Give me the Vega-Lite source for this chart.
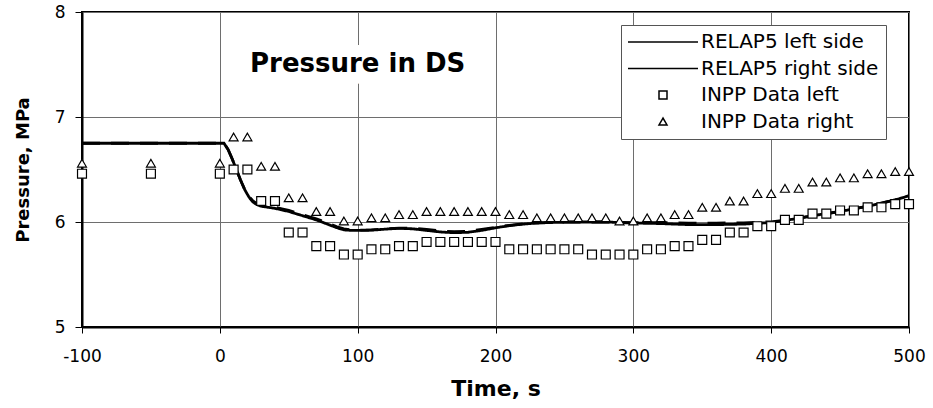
{
  "$schema": "https://vega.github.io/schema/vega-lite/v6.json",
  "width": 827,
  "height": 315,
  "autosize": "none",
  "padding": {"left": 82, "top": 12, "right": 24, "bottom": 81},
  "background": "white",
  "config": {
    "font": "DejaVu Sans",
    "view": {"stroke": "black", "strokeWidth": 2},
    "point": {"opacity": 1},
    "axis": {
      "grid": true,
      "gridColor": "#6e6e6e",
      "gridWidth": 1,
      "gridOpacity": 1,
      "domainColor": "black",
      "domainWidth": 2,
      "tickColor": "black",
      "tickWidth": 1,
      "labelColor": "black",
      "labelFont": "DejaVu Sans",
      "labelFontSize": 17,
      "labelFlush": false,
      "labelOverlap": false,
      "labelExpr": "'' + datum.value",
      "titleColor": "black",
      "titleFont": "DejaVu Sans",
      "titleFontWeight": "bold"
    }
  },
  "datasets": {
    "relap5": [
      {"series": "RELAP5 left side", "t": -100, "p": 6.75},
      {"series": "RELAP5 left side", "t": 0, "p": 6.75},
      {"series": "RELAP5 left side", "t": 3, "p": 6.75},
      {"series": "RELAP5 left side", "t": 6, "p": 6.69},
      {"series": "RELAP5 left side", "t": 9, "p": 6.6},
      {"series": "RELAP5 left side", "t": 12, "p": 6.5},
      {"series": "RELAP5 left side", "t": 15, "p": 6.4},
      {"series": "RELAP5 left side", "t": 18, "p": 6.31},
      {"series": "RELAP5 left side", "t": 21, "p": 6.24},
      {"series": "RELAP5 left side", "t": 24, "p": 6.19},
      {"series": "RELAP5 left side", "t": 27, "p": 6.165},
      {"series": "RELAP5 left side", "t": 30, "p": 6.15},
      {"series": "RELAP5 left side", "t": 35, "p": 6.14},
      {"series": "RELAP5 left side", "t": 40, "p": 6.13},
      {"series": "RELAP5 left side", "t": 45, "p": 6.115},
      {"series": "RELAP5 left side", "t": 50, "p": 6.1},
      {"series": "RELAP5 left side", "t": 55, "p": 6.08},
      {"series": "RELAP5 left side", "t": 60, "p": 6.06},
      {"series": "RELAP5 left side", "t": 65, "p": 6.04},
      {"series": "RELAP5 left side", "t": 70, "p": 6.02},
      {"series": "RELAP5 left side", "t": 75, "p": 5.995},
      {"series": "RELAP5 left side", "t": 80, "p": 5.97},
      {"series": "RELAP5 left side", "t": 85, "p": 5.945},
      {"series": "RELAP5 left side", "t": 90, "p": 5.925},
      {"series": "RELAP5 left side", "t": 95, "p": 5.92},
      {"series": "RELAP5 left side", "t": 100, "p": 5.92},
      {"series": "RELAP5 left side", "t": 110, "p": 5.922},
      {"series": "RELAP5 left side", "t": 120, "p": 5.932},
      {"series": "RELAP5 left side", "t": 130, "p": 5.94},
      {"series": "RELAP5 left side", "t": 140, "p": 5.935},
      {"series": "RELAP5 left side", "t": 150, "p": 5.92},
      {"series": "RELAP5 left side", "t": 160, "p": 5.905},
      {"series": "RELAP5 left side", "t": 170, "p": 5.898},
      {"series": "RELAP5 left side", "t": 180, "p": 5.902},
      {"series": "RELAP5 left side", "t": 190, "p": 5.92},
      {"series": "RELAP5 left side", "t": 200, "p": 5.945},
      {"series": "RELAP5 left side", "t": 210, "p": 5.965},
      {"series": "RELAP5 left side", "t": 220, "p": 5.98},
      {"series": "RELAP5 left side", "t": 230, "p": 5.99},
      {"series": "RELAP5 left side", "t": 240, "p": 5.995},
      {"series": "RELAP5 left side", "t": 250, "p": 5.998},
      {"series": "RELAP5 left side", "t": 260, "p": 6.0},
      {"series": "RELAP5 left side", "t": 280, "p": 6.0},
      {"series": "RELAP5 left side", "t": 300, "p": 5.99},
      {"series": "RELAP5 left side", "t": 320, "p": 5.985},
      {"series": "RELAP5 left side", "t": 340, "p": 5.975},
      {"series": "RELAP5 left side", "t": 360, "p": 5.975},
      {"series": "RELAP5 left side", "t": 380, "p": 5.98},
      {"series": "RELAP5 left side", "t": 400, "p": 5.995},
      {"series": "RELAP5 left side", "t": 410, "p": 6.015},
      {"series": "RELAP5 left side", "t": 420, "p": 6.035},
      {"series": "RELAP5 left side", "t": 430, "p": 6.06},
      {"series": "RELAP5 left side", "t": 440, "p": 6.08},
      {"series": "RELAP5 left side", "t": 450, "p": 6.1},
      {"series": "RELAP5 left side", "t": 460, "p": 6.125},
      {"series": "RELAP5 left side", "t": 470, "p": 6.15},
      {"series": "RELAP5 left side", "t": 480, "p": 6.18},
      {"series": "RELAP5 left side", "t": 490, "p": 6.21},
      {"series": "RELAP5 left side", "t": 500, "p": 6.25},

      {"series": "RELAP5 right side", "t": -100, "p": 6.75},
      {"series": "RELAP5 right side", "t": 0, "p": 6.75},
      {"series": "RELAP5 right side", "t": 3, "p": 6.75},
      {"series": "RELAP5 right side", "t": 6, "p": 6.69},
      {"series": "RELAP5 right side", "t": 9, "p": 6.6},
      {"series": "RELAP5 right side", "t": 12, "p": 6.5},
      {"series": "RELAP5 right side", "t": 15, "p": 6.4},
      {"series": "RELAP5 right side", "t": 18, "p": 6.31},
      {"series": "RELAP5 right side", "t": 21, "p": 6.245},
      {"series": "RELAP5 right side", "t": 24, "p": 6.2},
      {"series": "RELAP5 right side", "t": 27, "p": 6.175},
      {"series": "RELAP5 right side", "t": 30, "p": 6.16},
      {"series": "RELAP5 right side", "t": 35, "p": 6.15},
      {"series": "RELAP5 right side", "t": 40, "p": 6.14},
      {"series": "RELAP5 right side", "t": 45, "p": 6.125},
      {"series": "RELAP5 right side", "t": 50, "p": 6.11},
      {"series": "RELAP5 right side", "t": 55, "p": 6.09},
      {"series": "RELAP5 right side", "t": 60, "p": 6.07},
      {"series": "RELAP5 right side", "t": 65, "p": 6.05},
      {"series": "RELAP5 right side", "t": 70, "p": 6.03},
      {"series": "RELAP5 right side", "t": 75, "p": 6.005},
      {"series": "RELAP5 right side", "t": 80, "p": 5.98},
      {"series": "RELAP5 right side", "t": 85, "p": 5.955},
      {"series": "RELAP5 right side", "t": 90, "p": 5.935},
      {"series": "RELAP5 right side", "t": 95, "p": 5.925},
      {"series": "RELAP5 right side", "t": 100, "p": 5.922},
      {"series": "RELAP5 right side", "t": 110, "p": 5.925},
      {"series": "RELAP5 right side", "t": 120, "p": 5.935},
      {"series": "RELAP5 right side", "t": 130, "p": 5.942},
      {"series": "RELAP5 right side", "t": 140, "p": 5.94},
      {"series": "RELAP5 right side", "t": 150, "p": 5.93},
      {"series": "RELAP5 right side", "t": 160, "p": 5.915},
      {"series": "RELAP5 right side", "t": 170, "p": 5.908},
      {"series": "RELAP5 right side", "t": 180, "p": 5.912},
      {"series": "RELAP5 right side", "t": 190, "p": 5.93},
      {"series": "RELAP5 right side", "t": 200, "p": 5.95},
      {"series": "RELAP5 right side", "t": 210, "p": 5.968},
      {"series": "RELAP5 right side", "t": 220, "p": 5.982},
      {"series": "RELAP5 right side", "t": 230, "p": 5.992},
      {"series": "RELAP5 right side", "t": 240, "p": 5.997},
      {"series": "RELAP5 right side", "t": 250, "p": 6.0},
      {"series": "RELAP5 right side", "t": 260, "p": 6.0},
      {"series": "RELAP5 right side", "t": 280, "p": 6.0},
      {"series": "RELAP5 right side", "t": 300, "p": 5.995},
      {"series": "RELAP5 right side", "t": 320, "p": 5.995},
      {"series": "RELAP5 right side", "t": 340, "p": 5.99},
      {"series": "RELAP5 right side", "t": 360, "p": 5.99},
      {"series": "RELAP5 right side", "t": 380, "p": 5.992},
      {"series": "RELAP5 right side", "t": 400, "p": 6.002},
      {"series": "RELAP5 right side", "t": 410, "p": 6.018},
      {"series": "RELAP5 right side", "t": 420, "p": 6.038},
      {"series": "RELAP5 right side", "t": 430, "p": 6.06},
      {"series": "RELAP5 right side", "t": 440, "p": 6.08},
      {"series": "RELAP5 right side", "t": 450, "p": 6.1},
      {"series": "RELAP5 right side", "t": 460, "p": 6.125},
      {"series": "RELAP5 right side", "t": 470, "p": 6.15},
      {"series": "RELAP5 right side", "t": 480, "p": 6.18},
      {"series": "RELAP5 right side", "t": 490, "p": 6.21},
      {"series": "RELAP5 right side", "t": 500, "p": 6.25}
    ],
    "inpp": [
      {"series": "INPP Data left", "t": -100, "p": 6.46},
      {"series": "INPP Data left", "t": -50, "p": 6.46},
      {"series": "INPP Data left", "t": 0, "p": 6.46},
      {"series": "INPP Data left", "t": 10, "p": 6.5},
      {"series": "INPP Data left", "t": 20, "p": 6.5},
      {"series": "INPP Data left", "t": 30, "p": 6.2},
      {"series": "INPP Data left", "t": 40, "p": 6.2},
      {"series": "INPP Data left", "t": 50, "p": 5.9},
      {"series": "INPP Data left", "t": 60, "p": 5.9},
      {"series": "INPP Data left", "t": 70, "p": 5.77},
      {"series": "INPP Data left", "t": 80, "p": 5.77},
      {"series": "INPP Data left", "t": 90, "p": 5.69},
      {"series": "INPP Data left", "t": 100, "p": 5.69},
      {"series": "INPP Data left", "t": 110, "p": 5.74},
      {"series": "INPP Data left", "t": 120, "p": 5.74},
      {"series": "INPP Data left", "t": 130, "p": 5.77},
      {"series": "INPP Data left", "t": 140, "p": 5.77},
      {"series": "INPP Data left", "t": 150, "p": 5.81},
      {"series": "INPP Data left", "t": 160, "p": 5.81},
      {"series": "INPP Data left", "t": 170, "p": 5.81},
      {"series": "INPP Data left", "t": 180, "p": 5.81},
      {"series": "INPP Data left", "t": 190, "p": 5.81},
      {"series": "INPP Data left", "t": 200, "p": 5.81},
      {"series": "INPP Data left", "t": 210, "p": 5.74},
      {"series": "INPP Data left", "t": 220, "p": 5.74},
      {"series": "INPP Data left", "t": 230, "p": 5.74},
      {"series": "INPP Data left", "t": 240, "p": 5.74},
      {"series": "INPP Data left", "t": 250, "p": 5.74},
      {"series": "INPP Data left", "t": 260, "p": 5.74},
      {"series": "INPP Data left", "t": 270, "p": 5.69},
      {"series": "INPP Data left", "t": 280, "p": 5.69},
      {"series": "INPP Data left", "t": 290, "p": 5.69},
      {"series": "INPP Data left", "t": 300, "p": 5.69},
      {"series": "INPP Data left", "t": 310, "p": 5.74},
      {"series": "INPP Data left", "t": 320, "p": 5.74},
      {"series": "INPP Data left", "t": 330, "p": 5.77},
      {"series": "INPP Data left", "t": 340, "p": 5.77},
      {"series": "INPP Data left", "t": 350, "p": 5.83},
      {"series": "INPP Data left", "t": 360, "p": 5.83},
      {"series": "INPP Data left", "t": 370, "p": 5.9},
      {"series": "INPP Data left", "t": 380, "p": 5.9},
      {"series": "INPP Data left", "t": 390, "p": 5.96},
      {"series": "INPP Data left", "t": 400, "p": 5.96},
      {"series": "INPP Data left", "t": 410, "p": 6.02},
      {"series": "INPP Data left", "t": 420, "p": 6.02},
      {"series": "INPP Data left", "t": 430, "p": 6.08},
      {"series": "INPP Data left", "t": 440, "p": 6.08},
      {"series": "INPP Data left", "t": 450, "p": 6.11},
      {"series": "INPP Data left", "t": 460, "p": 6.11},
      {"series": "INPP Data left", "t": 470, "p": 6.14},
      {"series": "INPP Data left", "t": 480, "p": 6.14},
      {"series": "INPP Data left", "t": 490, "p": 6.17},
      {"series": "INPP Data left", "t": 500, "p": 6.17},

      {"series": "INPP Data right", "t": -100, "p": 6.56},
      {"series": "INPP Data right", "t": -50, "p": 6.56},
      {"series": "INPP Data right", "t": 0, "p": 6.56},
      {"series": "INPP Data right", "t": 10, "p": 6.81},
      {"series": "INPP Data right", "t": 20, "p": 6.81},
      {"series": "INPP Data right", "t": 30, "p": 6.53},
      {"series": "INPP Data right", "t": 40, "p": 6.53},
      {"series": "INPP Data right", "t": 50, "p": 6.23},
      {"series": "INPP Data right", "t": 60, "p": 6.23},
      {"series": "INPP Data right", "t": 70, "p": 6.1},
      {"series": "INPP Data right", "t": 80, "p": 6.1},
      {"series": "INPP Data right", "t": 90, "p": 6.01},
      {"series": "INPP Data right", "t": 100, "p": 6.01},
      {"series": "INPP Data right", "t": 110, "p": 6.04},
      {"series": "INPP Data right", "t": 120, "p": 6.04},
      {"series": "INPP Data right", "t": 130, "p": 6.07},
      {"series": "INPP Data right", "t": 140, "p": 6.07},
      {"series": "INPP Data right", "t": 150, "p": 6.1},
      {"series": "INPP Data right", "t": 160, "p": 6.1},
      {"series": "INPP Data right", "t": 170, "p": 6.1},
      {"series": "INPP Data right", "t": 180, "p": 6.1},
      {"series": "INPP Data right", "t": 190, "p": 6.1},
      {"series": "INPP Data right", "t": 200, "p": 6.1},
      {"series": "INPP Data right", "t": 210, "p": 6.07},
      {"series": "INPP Data right", "t": 220, "p": 6.07},
      {"series": "INPP Data right", "t": 230, "p": 6.04},
      {"series": "INPP Data right", "t": 240, "p": 6.04},
      {"series": "INPP Data right", "t": 250, "p": 6.04},
      {"series": "INPP Data right", "t": 260, "p": 6.04},
      {"series": "INPP Data right", "t": 270, "p": 6.04},
      {"series": "INPP Data right", "t": 280, "p": 6.04},
      {"series": "INPP Data right", "t": 290, "p": 6.01},
      {"series": "INPP Data right", "t": 300, "p": 6.01},
      {"series": "INPP Data right", "t": 310, "p": 6.04},
      {"series": "INPP Data right", "t": 320, "p": 6.04},
      {"series": "INPP Data right", "t": 330, "p": 6.07},
      {"series": "INPP Data right", "t": 340, "p": 6.07},
      {"series": "INPP Data right", "t": 350, "p": 6.14},
      {"series": "INPP Data right", "t": 360, "p": 6.14},
      {"series": "INPP Data right", "t": 370, "p": 6.2},
      {"series": "INPP Data right", "t": 380, "p": 6.2},
      {"series": "INPP Data right", "t": 390, "p": 6.27},
      {"series": "INPP Data right", "t": 400, "p": 6.27},
      {"series": "INPP Data right", "t": 410, "p": 6.32},
      {"series": "INPP Data right", "t": 420, "p": 6.32},
      {"series": "INPP Data right", "t": 430, "p": 6.38},
      {"series": "INPP Data right", "t": 440, "p": 6.38},
      {"series": "INPP Data right", "t": 450, "p": 6.42},
      {"series": "INPP Data right", "t": 460, "p": 6.42},
      {"series": "INPP Data right", "t": 470, "p": 6.46},
      {"series": "INPP Data right", "t": 480, "p": 6.46},
      {"series": "INPP Data right", "t": 490, "p": 6.48},
      {"series": "INPP Data right", "t": 500, "p": 6.48}
    ]
  },
  "layer": [
    {
      "data": {"name": "relap5"},
      "mark": {"type": "line", "color": "black", "strokeWidth": 2.8, "clip": true},
      "encoding": {
        "x": {
          "field": "t",
          "type": "quantitative",
          "title": "Time, s",
          "scale": {"domain": [-100, 500], "nice": false, "zero": false},
          "axis": {
            "values": [-100, 0, 100, 200, 300, 400, 500],
            "tickSize": 6,
            "labelPadding": 15,
            "titleFontSize": 22,
            "titlePadding": 14
          }
        },
        "y": {
          "field": "p",
          "type": "quantitative",
          "title": "Pressure, MPa",
          "scale": {"domain": [5, 8], "nice": false, "zero": false},
          "axis": {
            "values": [5, 6, 7, 8],
            "tickSize": 7,
            "labelPadding": 10,
            "titleFontSize": 18,
            "titlePadding": 22
          }
        },
        "detail": {"field": "series"},
        "strokeDash": {
          "field": "series",
          "type": "nominal",
          "scale": {
            "domain": ["RELAP5 left side", "RELAP5 right side"],
            "range": [[1, 0], [18, 11]]
          },
          "legend": null
        }
      }
    },
    {
      "data": {"name": "inpp"},
      "mark": {"type": "point", "filled": true, "fill": "white", "stroke": "black", "strokeWidth": 1.2, "size": 80},
      "encoding": {
        "x": {"field": "t", "type": "quantitative"},
        "y": {"field": "p", "type": "quantitative"},
        "shape": {
          "field": "series",
          "type": "nominal",
          "scale": {
            "domain": ["RELAP5 left side", "RELAP5 right side", "INPP Data left", "INPP Data right"],
            "range": ["M-8.75,0H8.75", "M-8.75,0H8.75", "square", "triangle-up"]
          },
          "legend": {
            "title": null,
            "orient": "none",
            "legendX": 539,
            "legendY": 13,
            "fillColor": "white",
            "strokeColor": "#555555",
            "padding": 7,
            "labelFont": "DejaVu Sans",
            "labelFontSize": 20,
            "labelColor": "black",
            "labelLimit": 400,
            "symbolSize": 64,
            "symbolOffset": 25,
            "labelOffset": 28,
            "rowPadding": 6.5
          }
        }
      }
    },
    {
      "data": {"values": [{"label": "Pressure in DS"}]},
      "mark": {"type": "text", "font": "DejaVu Sans", "fontWeight": "bold", "fontSize": 26, "align": "center", "baseline": "alphabetic", "fill": "white", "stroke": "white", "strokeWidth": 24, "strokeJoin": "round"},
      "encoding": {
        "x": {"datum": 100, "type": "quantitative"},
        "y": {"datum": 7.43, "type": "quantitative"},
        "text": {"field": "label", "type": "nominal"}
      }
    },
    {
      "data": {"values": [{"label": "Pressure in DS"}]},
      "mark": {"type": "text", "font": "DejaVu Sans", "fontWeight": "bold", "fontSize": 26, "align": "center", "baseline": "alphabetic", "fill": "black"},
      "encoding": {
        "x": {"datum": 100, "type": "quantitative"},
        "y": {"datum": 7.43, "type": "quantitative"},
        "text": {"field": "label", "type": "nominal"}
      }
    }
  ]
}
